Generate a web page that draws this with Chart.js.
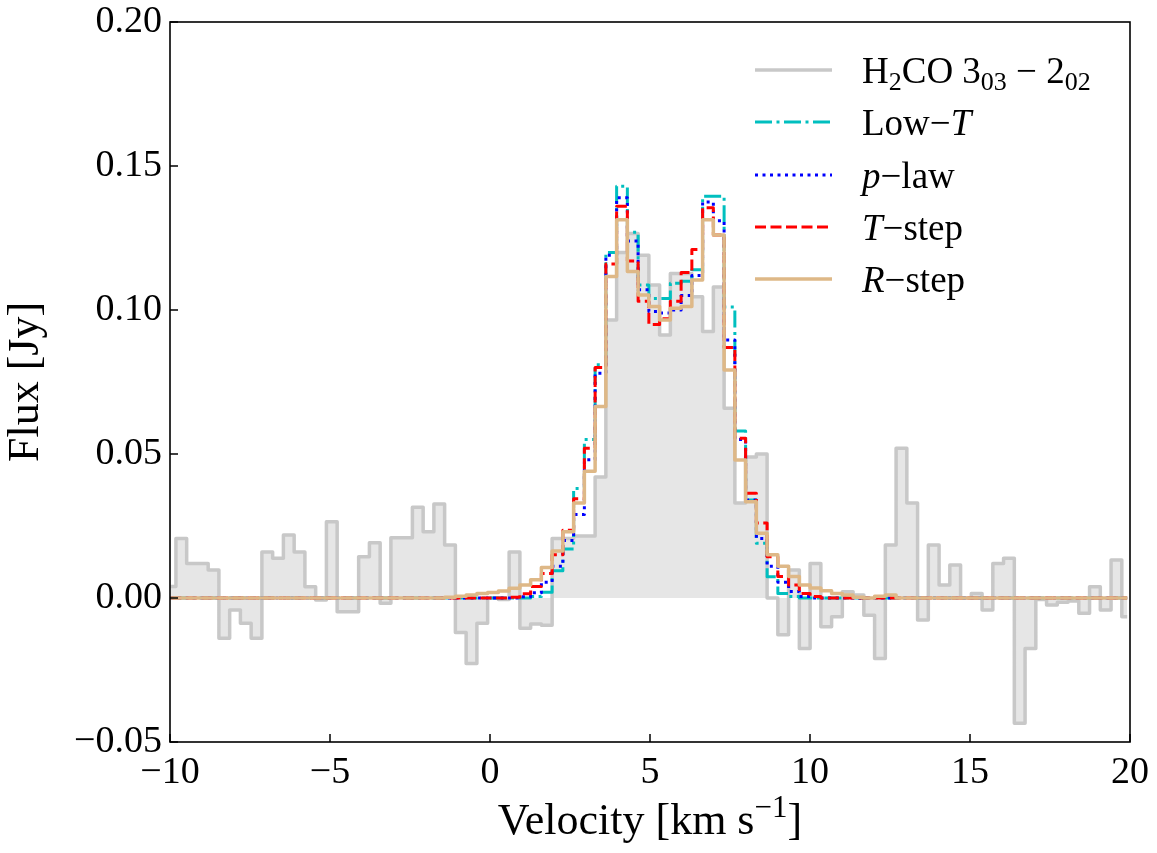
<!DOCTYPE html>
<html>
<head>
<meta charset="utf-8">
<script src="https://cdn.jsdelivr.net/npm/chart.js@4/dist/chart.umd.min.js"></script>
<style>
  body { margin: 0; background: #fff; }
  canvas { display: block; }
</style>
</head>
<body>
<canvas id="spectrum" width="1157" height="853"></canvas>
<script>
// channel grid (km/s): centre of the first channel and channel width
const CH0 = -9.983;
const DCH = 0.3359;

// H2CO 3_03 - 2_02 observed spectrum (Jy), one value per channel
const fluxObs = [
  0.004, 0.0207, 0.012, 0.012, 0.0097, -0.014, -0.0042, -0.0088, -0.014, 0.016,
  0.0138, 0.0219, 0.016, 0.0039, -0.0007, 0.0265, -0.0048, -0.0048, 0.0143, 0.0192,
  -0.0018, 0.0209, 0.0209, 0.0315, 0.023, 0.0326, 0.0184, -0.012, -0.0227, -0.0088,
  0.0, -0.0005, 0.016, -0.0105, -0.009, -0.0095, 0.0207, 0.0207, 0.0215, 0.0215,
  0.042, 0.0965, 0.12, 0.1266, 0.119, 0.1087, 0.0913, 0.1127, 0.1127, 0.1046,
  0.0925, 0.108, 0.0659, 0.033, 0.049, 0.05, 0.0, -0.0128, 0.0097, -0.0175,
  0.012, -0.01, -0.0065, 0.0022, 0.001, -0.006, -0.021, 0.0184, 0.052, 0.033,
  -0.0076, 0.0184, 0.0045, 0.0115, 0.0, 0.0016, -0.0042, 0.012, 0.0138, -0.0435,
  -0.0175, -0.0005, -0.0024, -0.0015, -0.001, -0.0053, 0.0039, -0.0042, 0.0132, -0.0065
];

// model spectra (Jy)
const fluxLowT = [
  0, 0, 0, 0, 0, 0, 0, 0, 0, 0,
  0, 0, 0, 0, 0, 0, 0, 0, 0, 0,
  0, 0, 0, 0, 0, 0, 0, 0, 0, 0,
  0, 0, 0, 0, 0.0005, 0.002, 0.0095, 0.017, 0.038, 0.055,
  0.081, 0.12, 0.143, 0.127, 0.1087, 0.104, 0.104, 0.1093, 0.11, 0.114,
  0.1395, 0.1395, 0.101, 0.058, 0.034, 0.019, 0.0074, 0.0016, 0.0005, 0,
  0, 0, 0, 0, 0, 0, 0, 0, 0, 0,
  0, 0, 0, 0, 0, 0, 0, 0, 0, 0,
  0, 0, 0, 0, 0, 0, 0, 0, 0, 0
];

const fluxPlaw = [
  0, 0, 0, 0, 0, 0, 0, 0, 0, 0,
  0, 0, 0, 0, 0, 0, 0, 0, 0, 0,
  0, 0, 0, 0, 0, 0, 0, 0, 0, 0,
  0, 0, 0, 0.0004, 0.0018, 0.0055, 0.011, 0.02, 0.029, 0.048,
  0.078, 0.119, 0.139, 0.124, 0.107, 0.0995, 0.099, 0.1, 0.105, 0.112,
  0.1375, 0.131, 0.0896, 0.055, 0.034, 0.0207, 0.011, 0.0055, 0.0023, 0.0005,
  0, 0, 0, 0, 0, 0, 0, 0, 0, 0,
  0, 0, 0, 0, 0, 0, 0, 0, 0, 0,
  0, 0, 0, 0, 0, 0, 0, 0, 0, 0
];

const fluxTstep = [
  0, 0, 0, 0, 0, 0, 0, 0, 0, 0,
  0, 0, 0, 0, 0, 0, 0, 0, 0, 0,
  0, 0, 0, 0, 0, 0, 0, 0, 0, 0,
  0, 0, 0.0003, 0.0015, 0.004, 0.0085, 0.015, 0.0235, 0.0345, 0.052,
  0.08, 0.116, 0.136, 0.117, 0.103, 0.095, 0.097, 0.103, 0.113, 0.121,
  0.1355, 0.126, 0.087, 0.0555, 0.0364, 0.026, 0.0143, 0.0075, 0.0045, 0.0016,
  0.0005, 0, 0, 0, 0, 0, 0, 0, 0, 0,
  0, 0, 0, 0, 0, 0, 0, 0, 0, 0,
  0, 0, 0, 0, 0, 0, 0, 0, 0, 0
];

const fluxRstep = [
  0, 0, 0, 0, 0, 0, 0, 0, 0, 0,
  0, 0, 0, 0, 0, 0, 0, 0, 0, 0,
  0, 0, 0, 0, 0, 0, 0.0003, 0.0006, 0.001, 0.0016,
  0.0019, 0.0024, 0.0034, 0.0045, 0.0063, 0.0106, 0.0163, 0.023, 0.033, 0.044,
  0.0665, 0.1116, 0.1313, 0.1134, 0.1052, 0.1012, 0.0965, 0.1006, 0.1012, 0.1104,
  0.1313, 0.126, 0.0792, 0.0479, 0.0334, 0.0225, 0.015, 0.011, 0.0075, 0.0045,
  0.0035, 0.0025, 0.0016, 0.001, 0.0003, 0, 0.0006, 0.001, 0, 0,
  0, 0, 0, 0, 0, 0, 0, 0, 0, 0,
  0, 0, 0, 0, 0, 0, 0, 0, 0, 0
];

const xTicks = [-10, -5, 0, 5, 10, 15, 20];
const yTicks = [-0.05, 0.0, 0.05, 0.10, 0.15, 0.20];

// legend labels as rich-text pieces: [text, style]
const legendLabels = [
  [['H', ''], ['2', 'sub'], ['CO 3', ''], ['03', 'sub'], [' \u2212 2', ''], ['02', 'sub']],
  [['Low\u2212', ''], ['T', 'i']],
  [['p', 'i'], ['\u2212law', '']],
  [['T', 'i'], ['\u2212step', '']],
  [['R', 'i'], ['\u2212step', '']]
];

const FONT = '"Liberation Serif", "DejaVu Serif", serif';

const velocity = fluxObs.map((_, i) => CH0 + i * DCH);
const toPoints = arr => arr.map((y, i) => ({ x: velocity[i], y: y }));
const minusFmt = s => s.replace('-', '\u2212');

const series = [
  { flux: fluxObs, color: '#c8c8c8', width: 3.5, dash: [], fill: 'origin', order: 5 },
  { flux: fluxLowT, color: '#00bfbf', width: 3, dash: [17, 4.5, 3, 4.5], fill: false, order: 4 },
  { flux: fluxPlaw, color: '#0000ff', width: 3, dash: [3, 4.5], fill: false, order: 3 },
  { flux: fluxTstep, color: '#ff0000', width: 3, dash: [11, 4.5], fill: false, order: 2 },
  { flux: fluxRstep, color: '#deb887', width: 3.5, dash: [], fill: false, order: 1 }
];

function fontFor(st, size) {
  if (st === 'sub' || st === 'sup') return Math.round(size * 0.7) + 'px ' + FONT;
  if (st === 'i') return 'italic ' + size + 'px ' + FONT;
  return size + 'px ' + FONT;
}

function richWidth(ctx, parts, size) {
  let w = 0;
  parts.forEach(([t, st]) => {
    ctx.font = fontFor(st, size);
    w += ctx.measureText(t).width;
  });
  return w;
}

function drawRich(ctx, parts, x, y, size, align) {
  let cx = align === 'center' ? x - richWidth(ctx, parts, size) / 2 : x;
  ctx.textAlign = 'left';
  ctx.textBaseline = 'alphabetic';
  parts.forEach(([t, st]) => {
    ctx.font = fontFor(st, size);
    let dy = 0;
    if (st === 'sub') dy = size * 0.2;
    if (st === 'sup') dy = -size * 0.38;
    ctx.fillText(t, cx, y + dy);
    cx += ctx.measureText(t).width;
  });
}

const decorations = {
  id: 'decorations',
  afterDraw(chart) {
    const { ctx, chartArea: a, scales } = chart;
    ctx.save();
    ctx.strokeStyle = '#000';
    ctx.fillStyle = '#000';

    // inward tick marks
    ctx.lineWidth = 1.5;
    ctx.beginPath();
    xTicks.forEach(v => {
      const px = scales.x.getPixelForValue(v);
      ctx.moveTo(px, a.bottom);
      ctx.lineTo(px, a.bottom - 8);
    });
    yTicks.forEach(v => {
      const py = scales.y.getPixelForValue(v);
      ctx.moveTo(a.left, py);
      ctx.lineTo(a.left + 8, py);
    });
    ctx.stroke();

    // frame
    ctx.lineWidth = 1.6;
    ctx.strokeRect(a.left, a.top, a.right - a.left, a.bottom - a.top);

    // axis titles
    drawRich(ctx, [['Velocity [km s', ''], ['\u22121', 'sup'], [']', '']],
      (a.left + a.right) / 2, 834, 44, 'center');
    ctx.save();
    ctx.translate(38, (a.top + a.bottom) / 2);
    ctx.rotate(-Math.PI / 2);
    drawRich(ctx, [['Flux [Jy]', '']], 0, 0, 44, 'center');
    ctx.restore();

    // legend
    const rowY = [70, 122, 175, 227, 279];
    series.forEach((s, i) => {
      ctx.save();
      ctx.strokeStyle = s.color;
      ctx.lineWidth = s.width;
      ctx.setLineDash(s.dash);
      ctx.lineCap = 'butt';
      ctx.beginPath();
      ctx.moveTo(755, rowY[i]);
      ctx.lineTo(832, rowY[i]);
      ctx.stroke();
      ctx.restore();
      drawRich(ctx, legendLabels[i], 862, rowY[i] + 13, 37, 'left');
    });
    ctx.restore();
  }
};

new Chart(document.getElementById('spectrum'), {
  type: 'line',
  data: {
    datasets: series.map(s => ({
      data: toPoints(s.flux),
      borderColor: s.color,
      borderWidth: s.width,
      borderDash: s.dash,
      borderCapStyle: 'butt',
      borderJoinStyle: 'round',
      backgroundColor: '#e6e6e6',
      fill: s.fill,
      stepped: 'middle',
      pointRadius: 0,
      order: s.order
    }))
  },
  options: {
    responsive: false,
    animation: false,
    layout: { padding: { left: 0, top: 22, right: 27, bottom: 0 } },
    plugins: { legend: { display: false }, tooltip: { enabled: false } },
    scales: {
      x: {
        type: 'linear',
        min: -10,
        max: 20,
        afterFit: scale => {
          scale.height = 111;
          scale.paddingLeft = 0;
          scale.paddingRight = 0;
        },
        afterBuildTicks: scale => { scale.ticks = xTicks.map(v => ({ value: v })); },
        grid: { display: false, drawTicks: false },
        border: { display: false },
        ticks: {
          padding: 8,
          color: '#000',
          maxRotation: 0,
          font: { family: FONT, size: 38 },
          callback: v => minusFmt(String(v))
        }
      },
      y: {
        min: -0.05,
        max: 0.20,
        afterFit: scale => {
          scale.width = 170;
          scale.paddingTop = 0;
          scale.paddingBottom = 0;
        },
        afterBuildTicks: scale => { scale.ticks = yTicks.map(v => ({ value: v })); },
        grid: { display: false, drawTicks: false },
        border: { display: false },
        ticks: {
          padding: 8,
          color: '#000',
          font: { family: FONT, size: 38 },
          callback: v => minusFmt(v.toFixed(2))
        }
      }
    }
  },
  plugins: [decorations]
});
</script>
</body>
</html>
